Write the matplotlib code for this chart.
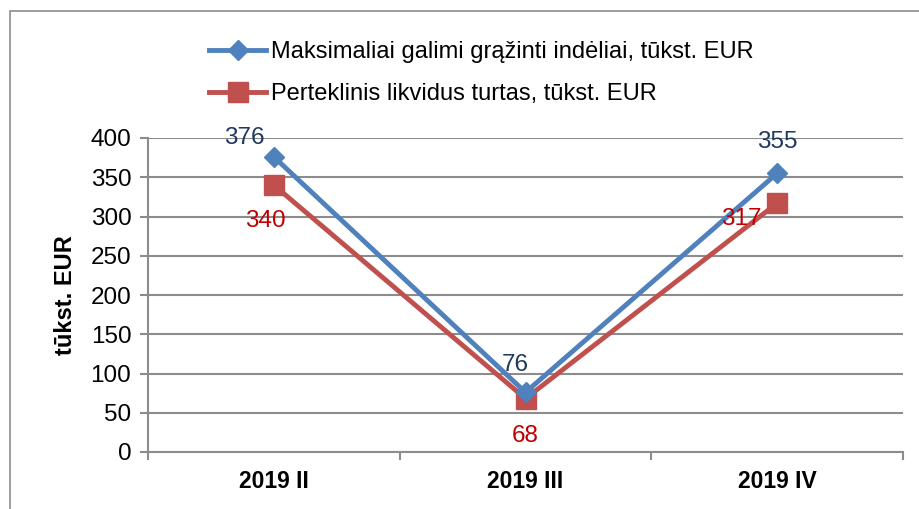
import matplotlib.pyplot as plt
from matplotlib.patches import Rectangle

categories = ['2019 II', '2019 III', '2019 IV']
max_deposits = [376, 76, 355]
excess_liquid = [340, 68, 317]
label_max = 'Maksimaliai galimi grąžinti indėliai, tūkst. EUR'
label_exc = 'Perteklinis likvidus turtas, tūkst. EUR'

plt.rcParams['font.family'] = ['Liberation Sans', 'DejaVu Sans']

W, H = 919, 509
fig = plt.figure(figsize=(W / 100, H / 100), dpi=100)

# outer chart border
fig.patches.append(Rectangle((10 / W, -0.1), 1.1, 1 - 11 / H + 0.1, transform=fig.transFigure,
                             fill=False, edgecolor='#8c8c8c', linewidth=1.2))

left, right, top, bottom = 148, 903, 138, 452
ax = fig.add_axes([left / W, 1 - bottom / H, (right - left) / W, (bottom - top) / H])

x = list(range(len(categories)))
blue = '#4F81BD'
red = '#C0504D'
l1, = ax.plot(x, max_deposits, color=blue, linewidth=3.5, marker='D', markersize=10, zorder=3)
l2, = ax.plot(x, excess_liquid, color=red, linewidth=3.5, marker='s', markersize=14, zorder=2)

ax.set_xlim(-0.5, 2.5)
ax.set_ylim(0, 400)
ax.set_yticks(range(0, 401, 50))
ax.set_xticks(x)
ax.set_xticklabels(categories, fontsize=16.5, fontweight='bold')
ax.set_xticks([-0.5, 0.5, 1.5, 2.5], minor=True)
ax.tick_params(axis='x', which='major', length=0, pad=13)
ax.tick_params(axis='x', which='minor', length=6, width=1.5, color='#8c8c8c', direction='out')
ax.tick_params(axis='y', labelsize=17.5, length=6, width=1.5, color='#8c8c8c', pad=6)
ax.grid(axis='y', color='#8c8c8c', linewidth=1.5)
ax.set_axisbelow(True)
for s in ['top', 'right']:
    ax.spines[s].set_visible(False)
for s in ['left', 'bottom']:
    ax.spines[s].set_color('#8c8c8c')
    ax.spines[s].set_linewidth(1.5)
ax.set_ylabel('tūkst. EUR', fontsize=17, fontweight='bold', labelpad=10)

# data labels
navy = '#1F3A5F'
dred = '#C00000'
offs_max = [(-30, 19), (-10, 27), (0, 31)]
offs_exc = [(-8, -36), (0, -37), (-36, -16)]
for xi, v, o in zip(x, max_deposits, offs_max):
    ax.annotate(str(v), (xi, v), xytext=o, textcoords='offset pixels', ha='center', va='center',
                fontsize=17.5, color=navy)
for xi, v, o in zip(x, excess_liquid, offs_exc):
    ax.annotate(str(v), (xi, v), xytext=o, textcoords='offset pixels', ha='center', va='center',
                fontsize=17.5, color=dred)

fig.legend([l1, l2], [label_max, label_exc], loc='upper left', bbox_to_anchor=(188 / W, 1 - 20 / H),
           frameon=False, fontsize=17, handlelength=2.4, handletextpad=0.2, labelspacing=0.85)

fig.savefig('out.png', dpi=100)
